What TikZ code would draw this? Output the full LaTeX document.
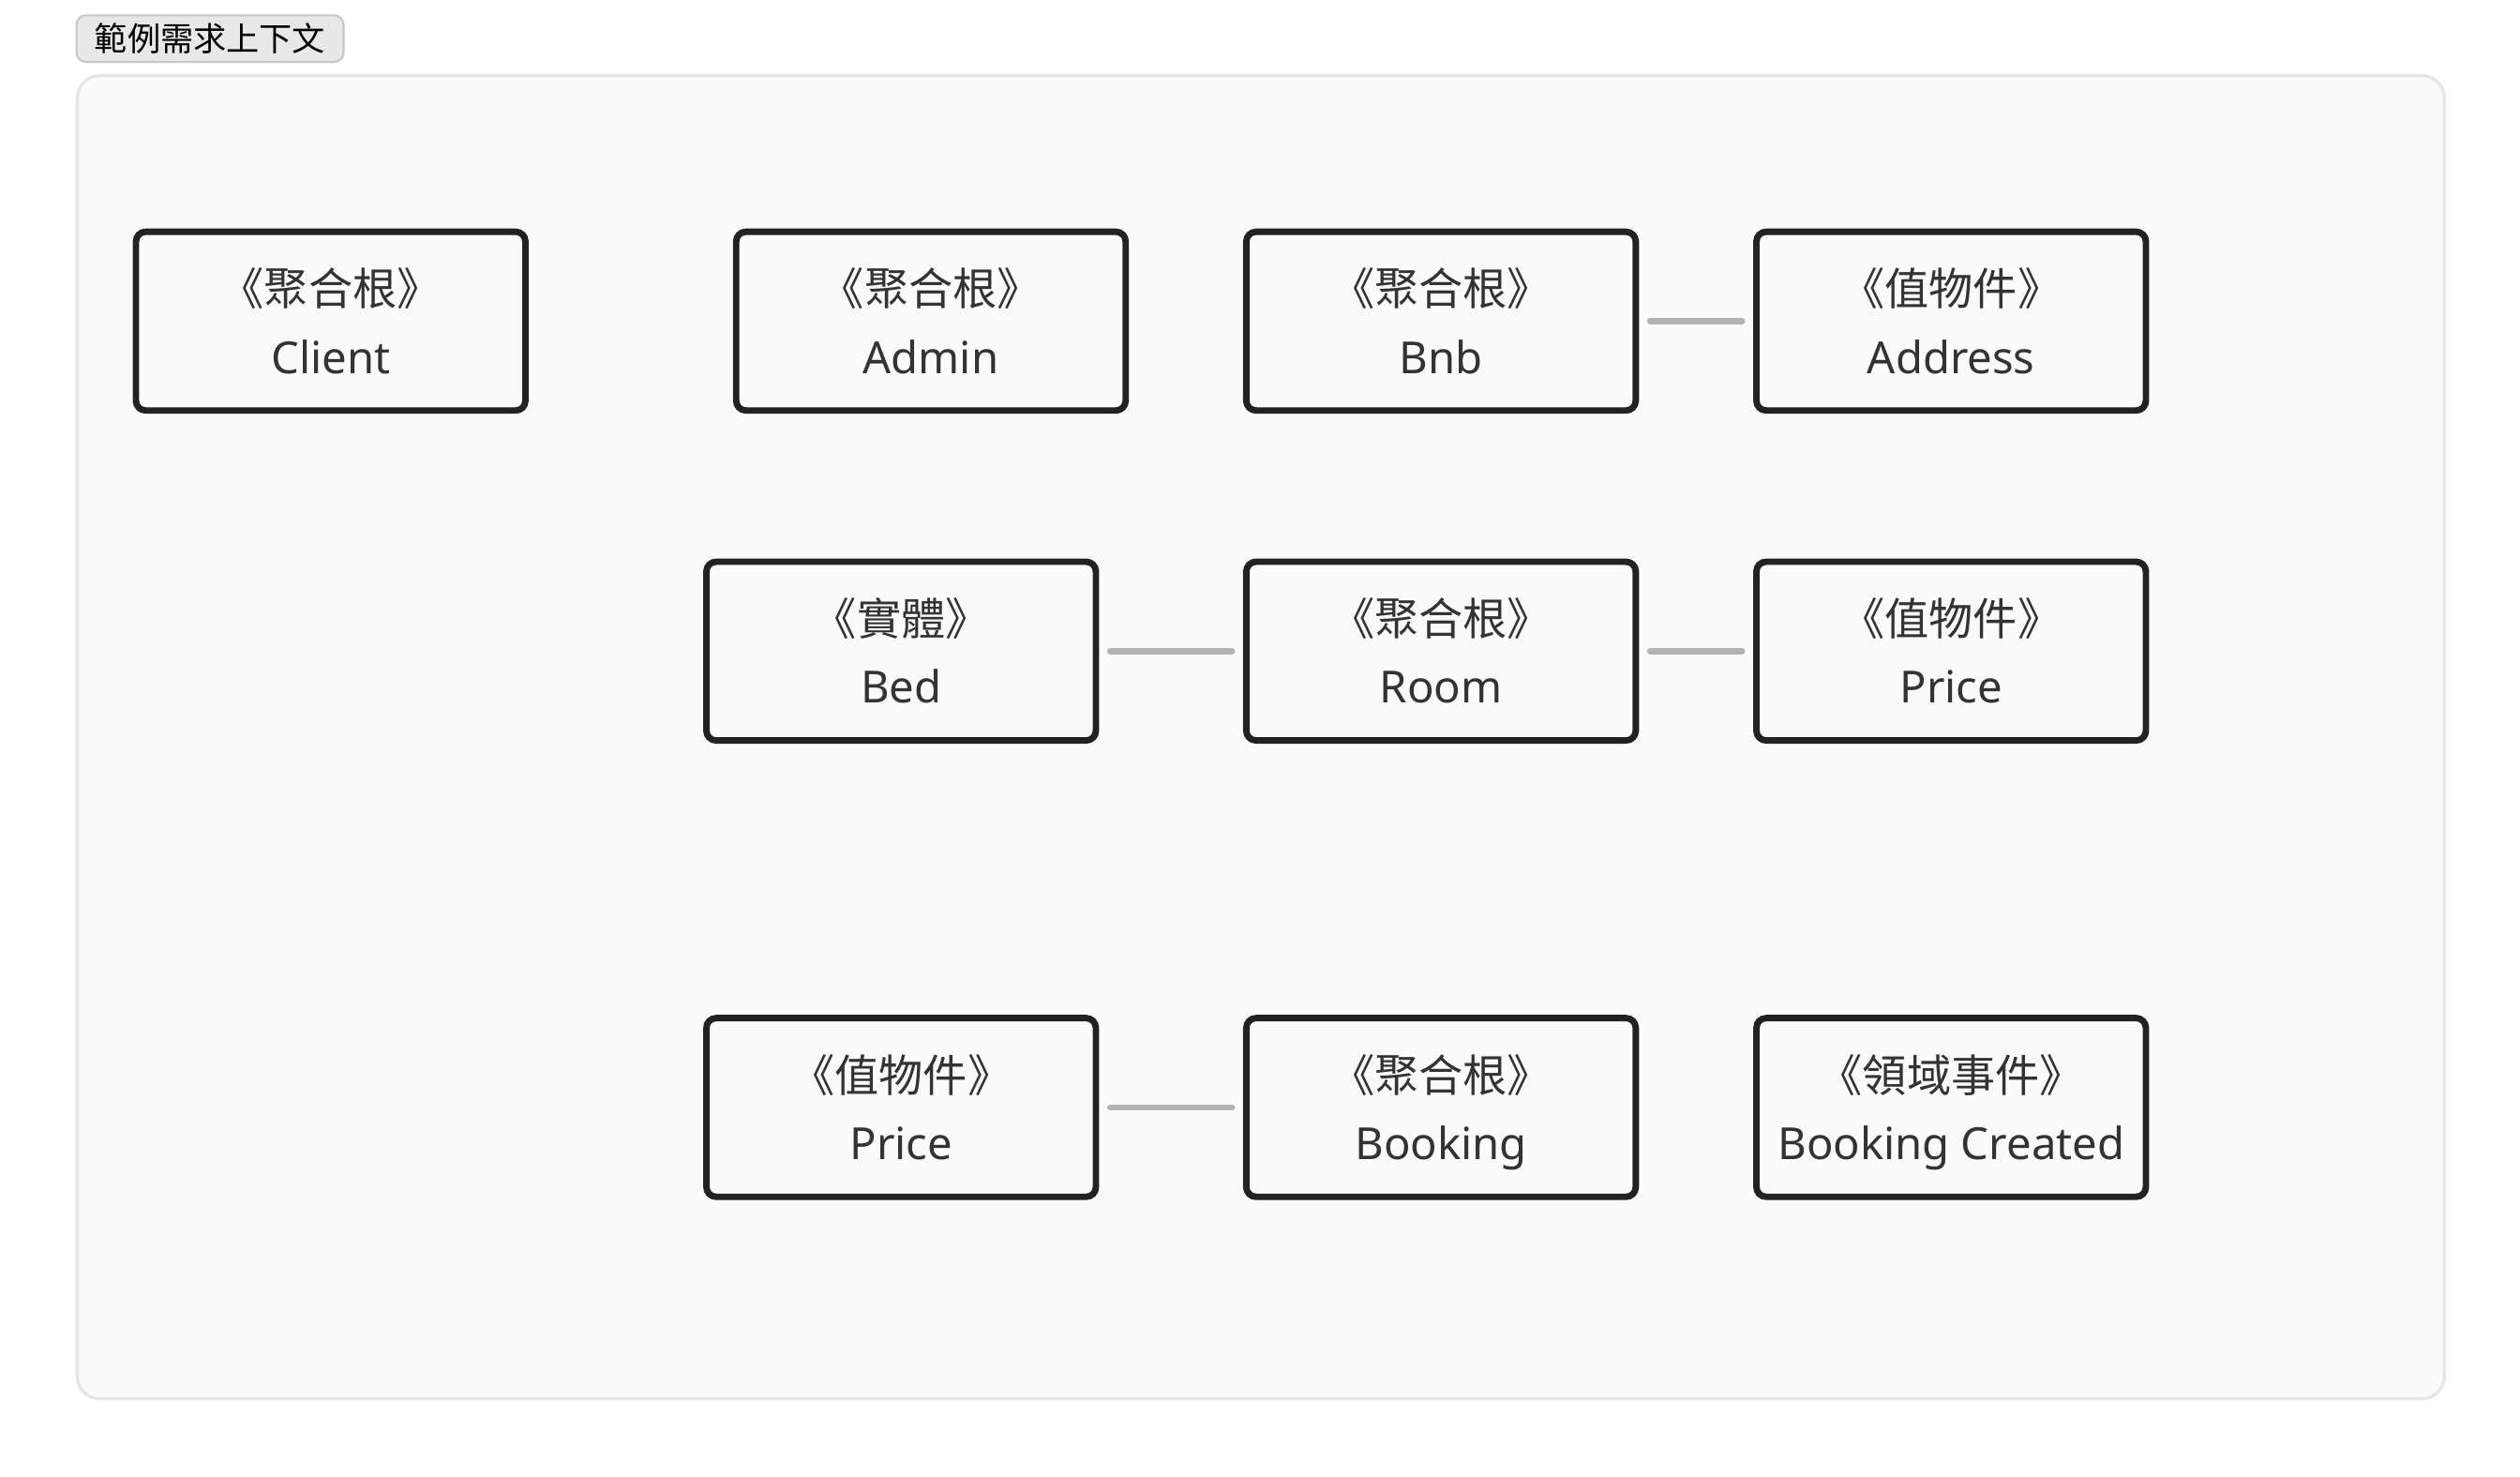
\documentclass[tikz,border=0pt]{standalone}
\usepackage{fontspec}
\setmainfont{Noto Sans}
\newfontfamily\cjk{Noto Sans CJK TC}
\usetikzlibrary{positioning}
\definecolor{panelbg}{HTML}{FAFAFA}
\definecolor{panelline}{HTML}{E6E6E6}
\definecolor{btnbg}{HTML}{E8E8E8}
\definecolor{btnline}{HTML}{C6C6C6}
\definecolor{boxline}{HTML}{222222}
\definecolor{boxtext}{HTML}{333333}
\definecolor{linkgray}{HTML}{B3B3B3}
\newcommand{\topstrut}{\rule[-12.6pt]{0pt}{48pt}}
\newcommand{\stagg}{{\cjk\fontsize{27.5}{42}\selectfont\topstrut 《聚合根》}}
\newcommand{\stval}{{\cjk\fontsize{27.5}{42}\selectfont\topstrut 《值物件》}}
\newcommand{\stent}{{\cjk\fontsize{27.5}{42}\selectfont\topstrut 《實體》}}
\newcommand{\stevt}{{\cjk\fontsize{27.5}{42}\selectfont\topstrut 《領域事件》}}

\begin{document}
\begin{tikzpicture}[x=1pt, y=-1pt,
	box/.style={draw=boxline, line width=4pt, fill=panelbg, rounded corners=6pt,
		minimum width=242pt, minimum height=111pt, inner sep=0pt, align=center,
		text=boxtext, font=\fontsize{27.5}{42}\selectfont},
	link/.style={draw=linkgray, line width=4pt, line cap=round, shorten <=7pt, shorten >=7pt}]
	\useasboundingbox (0,0) rectangle (1566,917);

	\draw[panelline, fill=panelbg, line width=2pt, rounded corners=14pt] (48,47) rectangle (1519,869);
	\node[draw=btnline, fill=btnbg, line width=1.2pt, rounded corners=6pt, minimum width=166pt,
		minimum height=29pt, inner sep=0pt, font=\cjk\fontsize{20.5}{24}\selectfont] (ctx) at (130.5,24) {範例需求上下文};

	\node[box] (client) at (205.5,199.5) {\stagg\\Client\strut};
	\node[box] (admin) at (578.5,199.5) {\stagg\\Admin\strut};
	\node[box] (bnb) at (895.5,199.5) {\stagg\\Bnb\strut};
	\node[box, right of=bnb, node distance=317pt] (address) {\stval\\Address\strut};

	\node[box, below of=bnb, node distance=205pt] (room) {\stagg\\Room\strut};
	\node[box, left of=room, node distance=335.5pt] (bed) {\stent\\Bed\strut};
	\node[box, right of=room, node distance=317pt] (roomprice) {\stval\\Price\strut};

	\node[box, below of=room, node distance=283.5pt] (booking) {\stagg\\Booking\strut};
	\node[box, left of=booking, node distance=335.5pt] (bookprice) {\stval\\Price\strut};
	\node[box, right of=booking, node distance=317pt] (created) {\stevt\\Booking Created\strut};

	\draw[link] (bnb) -- (address);
	\draw[link] (bed) -- (room);
	\draw[link] (room) -- (roomprice);
	\draw[link] (bookprice) -- (booking);
\end{tikzpicture}
\end{document}
